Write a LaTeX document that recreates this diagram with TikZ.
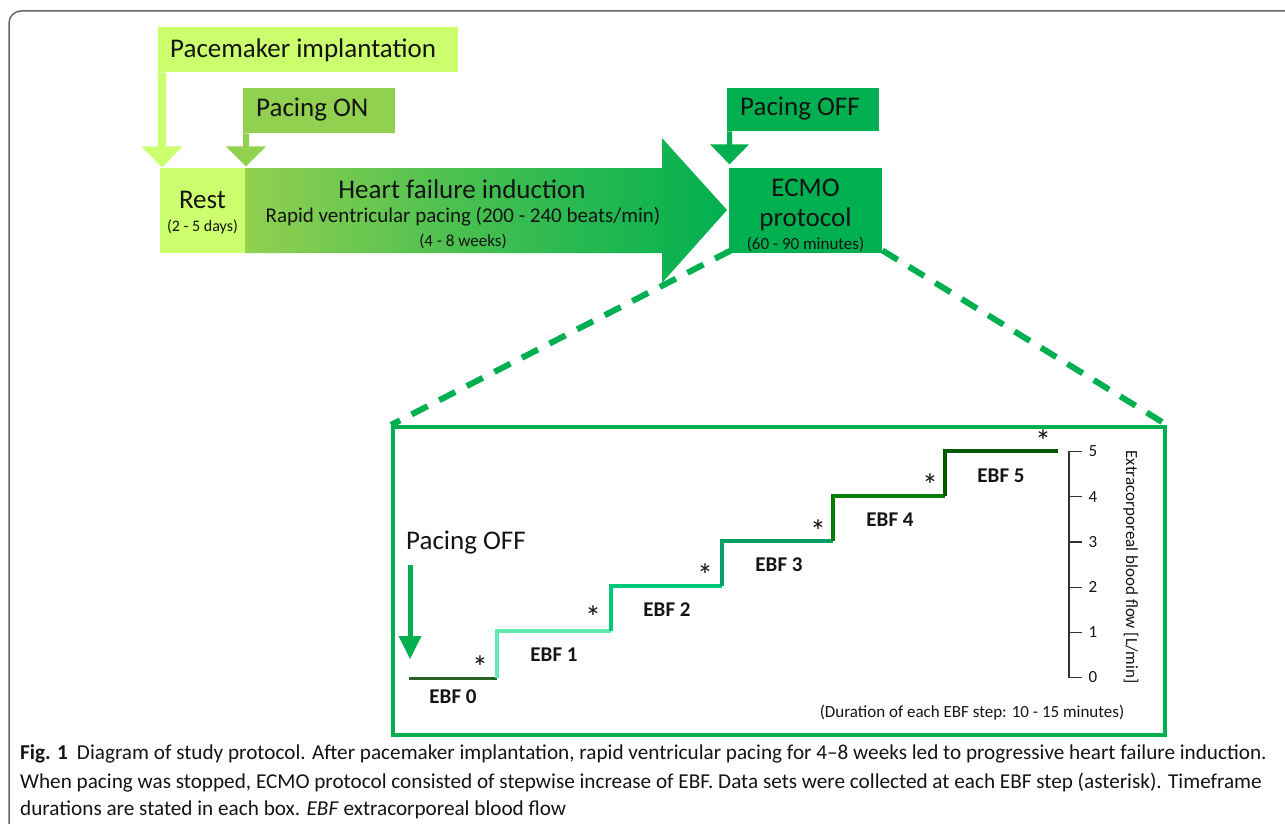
\documentclass[tikz,border=0pt]{standalone}
\usepackage{fontspec}
\setmainfont{Carlito}
\definecolor{lightg}{RGB}{204,255,110}
\definecolor{midg}{RGB}{146,208,80}
\definecolor{darkg}{RGB}{0,176,80}
\definecolor{inkc}{RGB}{20,20,20}
\definecolor{cz}{RGB}{40,100,40}
\definecolor{ca}{RGB}{100,235,180}
\definecolor{cb}{RGB}{0,200,120}
\definecolor{cc}{RGB}{0,160,100}
\definecolor{cd}{RGB}{0,125,0}
\definecolor{ce}{RGB}{0,90,0}
\newcommand\fsz[2]{\fontsize{#1}{#2}\selectfont}
\tikzset{
  boxn/.style={rectangle, inner sep=0pt, anchor=north west, text=inkc},
  lbl/.style={inner sep=0pt, text=inkc},
  bigt/.style={lbl, font=\fsz{27}{30}},
  smt/.style={lbl, font=\fsz{17}{20}},
  ebft/.style={lbl, font=\fsz{21}{24}\bfseries},
  astt/.style={lbl, font=\fsz{32}{34}},
  stairline/.style={line width=4.5pt, line join=miter, line cap=butt},
  dashline/.style={darkg, line width=6pt, dash pattern=on 18pt off 13pt},
  capt/.style={inner sep=0pt, anchor=base west, text=inkc, font=\fsz{21.2}{25}},
}
\begin{document}
\begin{tikzpicture}[x=1pt,y=-1pt]
\useasboundingbox (0,0) rectangle (1285,824);
\begin{scope}
\clip (0,0) rectangle (1285,824);
\draw[black!60, line width=1.5pt, rounded corners=12pt] (9,11) rectangle (1310,845);
\end{scope}

% top callout boxes
\node[boxn, fill=lightg, minimum width=300, minimum height=45] (pm) at (158,27) {};
\node[bigt, anchor=west] (pmt) at (170,50) {Pacemaker implantation};
\node[boxn, fill=midg, minimum width=152, minimum height=45] (pon) at (243,88) {};
\node[bigt, anchor=west] (pont) at (256,110) {Pacing ON};
\node[boxn, fill=darkg, minimum width=152, minimum height=43] (poff) at (727,88) {};
\node[bigt, anchor=west] (pofft) at (740,109) {Pacing OFF};

% stems with arrowheads
\fill[lightg] (pm.south west) -- ++(8,0) -- ++(0,74) -- ++(16.5,0) -- ++(-20.5,21) -- ++(-20.5,-21) -- ++(16.5,0) -- cycle;
\fill[midg] (pon.south west) -- ++(6,0) -- ++(0,13) -- ++(17,0) -- ++(-20,20) -- ++(-20,-20) -- ++(17,0) -- cycle;
\fill[darkg] (poff.south west) -- ++(5,0) -- ++(0,13) -- ++(17,0) -- ++(-19.5,20) -- ++(-19.5,-20) -- ++(17,0) -- cycle;

% rest box
\node[boxn, fill=lightg, minimum width=85, minimum height=85] (rest) at (160,168) {};
\node[bigt] (restt) at (202.5,200) {Rest};
\node[lbl, font=\fsz{16}{18}] (restd) at (202.5,227) {(2 - 5 days)};

% big arrow
\shade[left color=midg, right color=darkg, middle color=darkg!55!midg] (245,168) -- (662,168) -- (662,138) -- (727,210) -- (662,283) -- (662,253) -- (245,253) -- cycle;
\node[bigt] (hf) at (462,189) {Heart failure induction};
\node[lbl, font=\fsz{21}{24}] (rvp) at (463,217) {Rapid ventricular pacing (200 - 240 beats/min)};
\node[smt] (wk) at (463,241) {(4 - 8 weeks)};

% ECMO box
\node[boxn, fill=darkg, minimum width=153, minimum height=85] (ecmo) at (729,168) {};
\node[bigt] (ecmo1) at (805.5,188) {ECMO};
\node[bigt] (ecmo2) at (805.5,219) {protocol};
\node[smt] (ecmo3) at (805.5,244) {(60 - 90 minutes)};

% inset
\node[boxn, draw=darkg, line width=4pt, minimum width=772, minimum height=308] (inset) at (391,425) {};
\draw[dashline] ([xshift=2pt,yshift=3pt]ecmo.south west) -- (inset.north west);
\draw[dashline] ([yshift=3pt]ecmo.south east) -- (inset.north east);

% pacing off inside inset
\node[bigt, anchor=west] (ipoff) at (406,543) {Pacing OFF};
\coordinate (arrtop) at (410,565);
\coordinate (arrtip) at (410,659);
\coordinate (arrbl) at (398.5,636);
\coordinate (arrbr) at (421.5,636);
\draw[darkg, line width=5pt] (arrtop) -- (410,640);
\fill[darkg] (arrbl) -- (arrbr) -- (arrtip) -- cycle;

% staircase
\draw[stairline, cz, line width=3pt] (409,678) -- (497,678);
\draw[stairline, ca] (497,678) -- (497,631) -- (611,631);
\draw[stairline, cb] (611,631) -- (611,586) -- (722,586);
\draw[stairline, cc] (722,586) -- (722,541) -- (833,541);
\draw[stairline, cd] (833,541) -- (833,496) -- (945,496);
\draw[stairline, ce] (945,496) -- (945,451) -- (1058,451);

\node[ebft] (e0) at (453,697) {EBF 0};
\node[ebft] (e1) at (554,655) {EBF 1};
\node[ebft] (e2) at (667,610) {EBF 2};
\node[ebft] (e3) at (779,565) {EBF 3};
\node[ebft] (e4) at (890,520) {EBF 4};
\node[ebft] (e5) at (1001,476) {EBF 5};

\node[astt] (a0) at (480,667) {*};
\node[astt] (a1) at (593,617) {*};
\node[astt] (a2) at (705,575) {*};
\node[astt] (a3) at (818,531) {*};
\node[astt] (a4) at (930,485) {*};
\node[astt] (a5) at (1043,441) {*};

% axis
\draw[black!80, line width=1.2pt] (1082,451.5) -- (1069,451.5) -- (1069,677.5) -- (1082,677.5);
\foreach \k in {1,2,3,4} {\draw[black!80, line width=1.2pt] (1069,{677.5-45.2*\k}) -- (1082,{677.5-45.2*\k});}
\foreach \k in {0,...,5} {\node[smt] (n\k) at (1093,{677.5-45.2*\k}) {\k};}
\node[smt, rotate=-90] (axl) at (1131,567) {Extracorporeal blood flow [L/min]};
\node[smt] (dur) at (972,713) {(Duration of each EBF step: 10 - 15 minutes)};

% caption
\node[capt] (cap1) at (20,759) {\textbf{Fig. 1}\hspace{9pt}Diagram of study protocol. After pacemaker implantation, rapid ventricular pacing for 4–8 weeks led to progressive heart failure induction.};
\node[capt] (cap2) at (20,788) {When pacing was stopped, ECMO protocol consisted of stepwise increase of EBF. Data sets were collected at each EBF step (asterisk). Timeframe};
\node[capt] (cap3) at (20,815) {durations are stated in each box. \textit{EBF} extracorporeal blood flow};
\end{tikzpicture}
\end{document}
